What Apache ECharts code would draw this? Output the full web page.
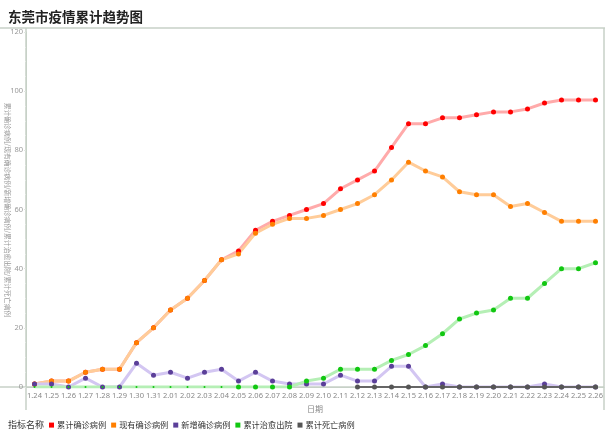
<!DOCTYPE html>
<html>
<head>
<meta charset="utf-8">
<script src="https://cdn.jsdelivr.net/npm/echarts@6/dist/echarts.min.js"></script>
<style>
html,body{margin:0;padding:0;background:#fff;}
#main{width:607px;height:431px;}
</style>
</head>
<body>
<div id="main"></div>
<script>
var dates = ['1.24','1.25','1.26','1.27','1.28','1.29','1.30','1.31','2.01','2.02','2.03','2.04','2.05','2.06','2.07','2.08','2.09','2.10','2.11','2.12','2.13','2.14','2.15','2.16','2.17','2.18','2.19','2.20','2.21','2.22','2.23','2.24','2.25','2.26'];
var yTicks = [0, 20, 40, 60, 80, 100, 120];
var seriesNames = ['累计确诊病例','现有确诊病例','新增确诊病例','累计治愈出院','累计死亡病例'];
var confirmedTotal = [1,2,2,5,6,6,15,20,26,30,36,43,46,53,56,58,60,62,67,70,73,81,89,89,91,91,92,93,93,94,96,97,97,97];
var confirmedNow   = [1,2,2,5,6,6,15,20,26,30,36,43,45,52,55,57,57,58,60,62,65,70,76,73,71,66,65,65,61,62,59,56,56,56];
var confirmedNew   = [1,1,0,3,0,0,8,4,5,3,5,6,2,5,2,1,1,1,4,2,2,7,7,0,1,0,0,0,0,0,1,0,0,0];
var curedTotal     = [0,0,0,0,0,0,0,0,0,0,0,0,0,0,0,0,2,3,6,6,6,9,11,14,18,23,25,26,30,30,35,40,40,42];
var deathTotal     = [null,null,null,null,null,null,null,null,null,null,null,null,null,null,null,null,null,null,null,0,0,0,0,0,0,0,0,0,0,0,0,0,0,0];

var dotColors  = ['#ff0000','#ff7f00','#5b3f99','#11c711','#555555'];
var lineColors = ['#ffaaaa','#ffcc99','#d3c6f2','#b5efb5','#666666'];
var seriesData = [confirmedTotal, confirmedNow, confirmedNew, curedTotal, deathTotal];

var frame = '#c7d1c7';
var chart = echarts.init(document.getElementById('main'));
var series = seriesNames.map(function (name, k) {
  return {
    name: name,
    type: 'line',
    data: seriesData[k],
    symbol: 'circle',
    symbolSize: k === 3 ? function (v, p) { return p.dataIndex < 12 ? 2 : 5; } : 5,
    showAllSymbol: true,
    itemStyle: { color: dotColors[k] },
    lineStyle: { color: lineColors[k], width: k === 4 ? 2 : 3 },
    emphasis: { disabled: true },
    animation: false
  };
});

chart.setOption({
  animation: false,
  title: [
    { text: '东莞市疫情累计趋势图', left: 3, top: 5,
      textStyle: { fontSize: 13.5, fontWeight: 'bold', color: '#222', fontFamily: 'Noto Sans CJK SC' } },
    { text: '指标名称', left: 3, top: 415,
      textStyle: { fontSize: 9, fontWeight: 'normal', color: '#333', fontFamily: 'Noto Sans CJK SC' } }
  ],
  legend: {
    left: 44, top: 416,
    itemWidth: 5, itemHeight: 5, itemGap: 5,
    icon: 'rect',
    textStyle: { fontSize: 8.2, color: '#333', fontFamily: 'Noto Sans CJK SC', padding: [0,0,0,-2] },
    data: seriesNames.map(function (n, k) { return { name: n, itemStyle: { color: dotColors[k] } }; })
  },
  grid: { left: 26, right: 3, top: 32, bottom: 44, containLabel: false, outerBoundsMode: 'none' },
  xAxis: {
    type: 'category',
    data: dates,
    boundaryGap: true,
    name: '日期',
    nameLocation: 'middle',
    nameGap: 18,
    nameTextStyle: { fontSize: 8, color: '#888', fontFamily: 'Noto Sans CJK SC' },
    axisLine: { show: true, lineStyle: { color: frame } },
    axisTick: { show: false },
    axisLabel: { fontSize: 7.5, color: '#888', margin: 5, interval: 0, fontFamily: 'Noto Sans' },
    splitLine: { show: false }
  },
  yAxis: {
    type: 'value',
    min: yTicks[0],
    max: yTicks[yTicks.length - 1],
    interval: yTicks[1] - yTicks[0],
    axisLine: { show: true, lineStyle: { color: frame } },
    axisTick: { show: true, length: 2, lineStyle: { color: '#e0e6e0' } },
    minorTick: { show: true, splitNumber: 4, length: 1, lineStyle: { color: '#e3e8e3' } },
    axisLabel: { fontSize: 7.5, color: '#999', margin: 3, fontFamily: 'Noto Sans' },
    splitLine: { show: false }
  },
  graphic: [
    { type: 'line', shape: { x1: 0, y1: 28, x2: 605, y2: 28 }, style: { stroke: frame, lineWidth: 1.5 }, silent: true },
    { type: 'line', shape: { x1: 26, y1: 28, x2: 26, y2: 410 }, style: { stroke: frame, lineWidth: 1.5 }, silent: true },
    { type: 'line', shape: { x1: 604, y1: 28, x2: 604, y2: 410 }, style: { stroke: frame, lineWidth: 1.5 }, silent: true },
    { type: 'line', shape: { x1: 0, y1: 387, x2: 604, y2: 387 }, style: { stroke: frame, lineWidth: 1.5 }, silent: true },
    { type: 'text', x: 8, y: 210, rotation: -Math.PI / 2, silent: true,
      style: { text: seriesNames.join('/'), fontSize: 6.8, fill: '#999', fontFamily: 'Noto Sans CJK SC', align: 'center', verticalAlign: 'middle' } }
  ],
  series: series
});
</script>
</body>
</html>
